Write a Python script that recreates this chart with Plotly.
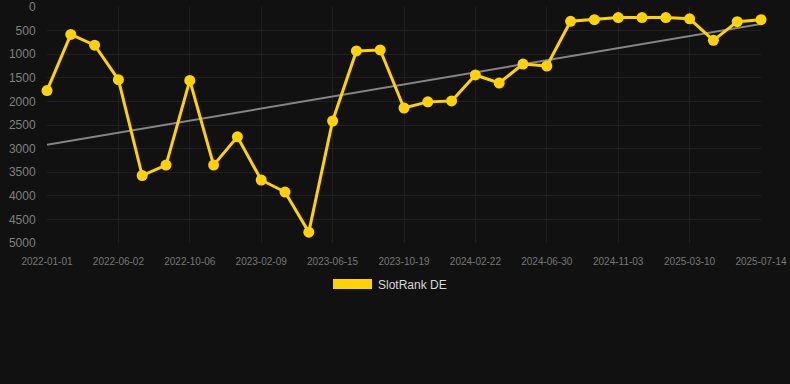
import plotly.graph_objects as go

dates = ["2022-01-01", "2022-02-20", "2022-04-11", "2022-06-02", "2022-07-14", "2022-08-25",
         "2022-10-06", "2022-11-17", "2022-12-29", "2023-02-09", "2023-03-23", "2023-05-04",
         "2023-06-15", "2023-07-27", "2023-09-07", "2023-10-19", "2023-11-30", "2024-01-11",
         "2024-02-22", "2024-04-04", "2024-05-17", "2024-06-30", "2024-08-10", "2024-09-22",
         "2024-11-03", "2024-12-15", "2025-01-27", "2025-03-10", "2025-04-21", "2025-06-02",
         "2025-07-14"]
ranks = [1770, 580, 810, 1540, 3570, 3350, 1555, 3350, 2750, 3665, 3920, 4770,
         2415, 930, 910, 2140, 2010, 1990, 1440, 1610, 1210, 1250, 303, 268,
         225, 225, 225, 250, 706, 311, 268]
trend_x = [dates[0], dates[-1]]
trend_y = [2920, 360]
tick_dates = dates[::3]
series_name = "SlotRank DE"

BG = "#111111"
GOLD = "#FFD200"

fig = go.Figure()
fig.add_trace(go.Scatter(x=trend_x, y=trend_y, mode="lines",
                         line=dict(color="#858585", width=2), showlegend=False,
                         hoverinfo="skip"))
fig.add_trace(go.Scatter(x=dates, y=ranks, mode="lines+markers", name=series_name,
                         line=dict(color=GOLD, width=3),
                         marker=dict(color=GOLD, size=11), cliponaxis=False,
                         showlegend=False))

fig.update_layout(
    width=790, height=384,
    paper_bgcolor=BG, plot_bgcolor=BG,
    margin=dict(l=47, r=29, t=7, b=141, autoexpand=False),
    font=dict(family="Liberation Sans, Arial, sans-serif"),
    xaxis=dict(type="category", categoryorder="array", categoryarray=dates,
               range=[0, len(dates) - 1], tickmode="array", tickvals=tick_dates,
               ticktext=tick_dates, showgrid=True, gridcolor="#202020", gridwidth=1,
               zeroline=False, showline=False, ticks="outside", ticklen=9,
               tickcolor="rgba(0,0,0,0)", tickfont=dict(size=10, color="#787878"),
               tickangle=0, automargin=False),
    yaxis=dict(range=[5000, 0], tickmode="array",
               tickvals=[0, 500, 1000, 1500, 2000, 2500, 3000, 3500, 4000, 4500, 5000],
               showgrid=True, gridcolor="#202020", gridwidth=1, zeroline=False,
               showline=False, ticks="outside", ticklen=8, tickcolor="rgba(0,0,0,0)",
               tickfont=dict(size=12, color="#808080"), automargin=False),
    shapes=[dict(type="rect", xref="paper", yref="paper",
                 x0=(333 - 47) / 714, x1=(372 - 47) / 714,
                 y0=(243 - 289) / 236, y1=(243 - 279) / 236,
                 fillcolor=GOLD, line=dict(width=0))],
    annotations=[dict(text=series_name, xref="paper", yref="paper",
                      x=(376 - 47) / 714, y=(243 - 284.5) / 236, xanchor="left",
                      yanchor="middle", showarrow=False,
                      font=dict(size=12, color="#d8d8d8"))],
)

fig.write_html("out.html")
